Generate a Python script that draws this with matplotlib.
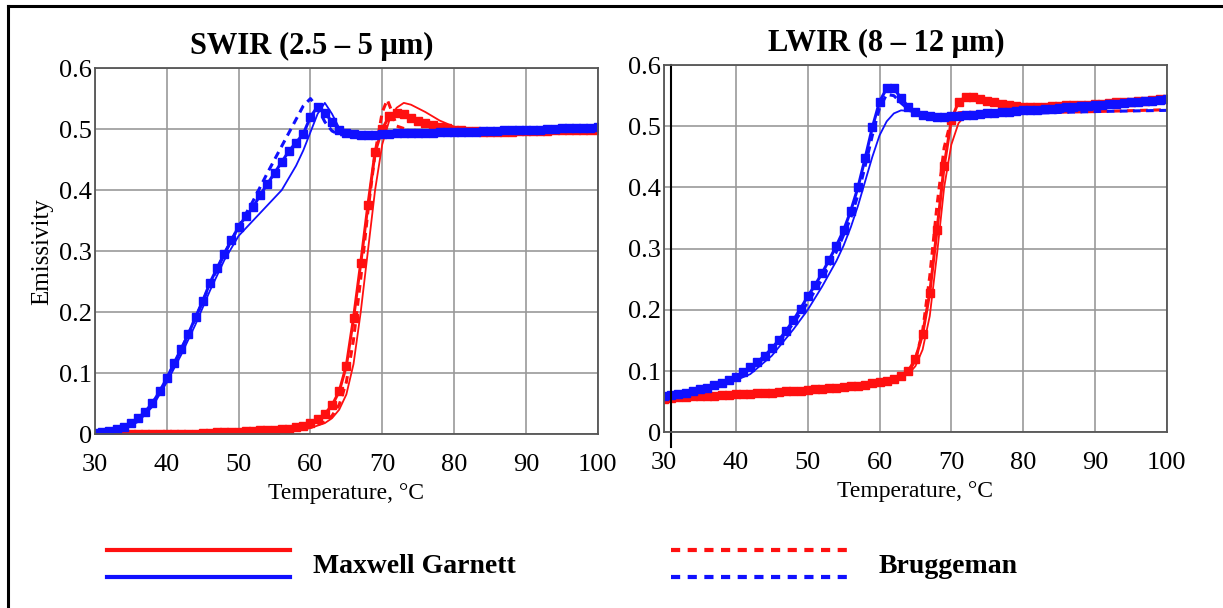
import numpy as np
import matplotlib
matplotlib.use('Agg')
import matplotlib.pyplot as plt
from matplotlib.lines import Line2D

plt.rcParams['font.family'] = ['Liberation Serif', 'DejaVu Serif']

RED = '#ff1010'
BLUE = '#1010ff'

# measured points, 30..100 C in 1 C steps
t_exp = list(range(30, 101))

swir_blue_exp = [0.002, 0.003, 0.005, 0.008, 0.012, 0.018, 0.026, 0.037, 0.051, 0.070,
                 0.092, 0.116, 0.140, 0.164, 0.192, 0.218, 0.248, 0.272, 0.296, 0.318,
                 0.340, 0.357, 0.372, 0.392, 0.410, 0.428, 0.446, 0.464, 0.478, 0.492,
                 0.520, 0.537, 0.527, 0.512, 0.499, 0.494, 0.492, 0.491, 0.491, 0.491,
                 0.492, 0.492, 0.493, 0.493, 0.493, 0.494, 0.494, 0.494, 0.495, 0.495,
                 0.495, 0.496, 0.496, 0.496, 0.497, 0.497, 0.497, 0.498, 0.498, 0.498,
                 0.499, 0.499, 0.499, 0.500, 0.500, 0.501, 0.501, 0.501, 0.502, 0.502,
                 0.503]
swir_red_exp = [0.001, 0.001, 0.001, 0.001, 0.001, 0.001, 0.001, 0.001, 0.001, 0.001,
                0.001, 0.001, 0.001, 0.001, 0.001, 0.002, 0.002, 0.003, 0.003, 0.004,
                0.004, 0.005, 0.005, 0.006, 0.006, 0.007, 0.008, 0.009, 0.011, 0.014,
                0.018, 0.024, 0.033, 0.047, 0.070, 0.112, 0.190, 0.280, 0.375, 0.462,
                0.500, 0.522, 0.526, 0.524, 0.519, 0.514, 0.510, 0.506, 0.503, 0.501,
                0.499, 0.498, 0.497, 0.497, 0.496, 0.496, 0.496, 0.496, 0.496, 0.497,
                0.497, 0.497, 0.497, 0.497, 0.498, 0.498, 0.498, 0.498, 0.498, 0.499,
                0.499]
lwir_blue_exp = [0.059, 0.061, 0.063, 0.065, 0.068, 0.070, 0.073, 0.077, 0.081, 0.086,
                 0.091, 0.098, 0.106, 0.115, 0.125, 0.137, 0.151, 0.166, 0.183, 0.202,
                 0.222, 0.240, 0.260, 0.282, 0.305, 0.330, 0.362, 0.400, 0.448, 0.498,
                 0.540, 0.562, 0.562, 0.546, 0.532, 0.523, 0.518, 0.516, 0.515, 0.515,
                 0.516, 0.517, 0.518, 0.519, 0.520, 0.521, 0.522, 0.523, 0.524, 0.525,
                 0.526, 0.527, 0.527, 0.528, 0.529, 0.530, 0.531, 0.532, 0.533, 0.533,
                 0.534, 0.535, 0.536, 0.537, 0.538, 0.539, 0.540, 0.541, 0.542, 0.543,
                 0.544]
lwir_red_exp = [0.055, 0.056, 0.057, 0.058, 0.059, 0.059, 0.060, 0.060, 0.061, 0.061,
                0.062, 0.063, 0.063, 0.064, 0.064, 0.065, 0.066, 0.067, 0.067, 0.068,
                0.069, 0.070, 0.071, 0.072, 0.073, 0.074, 0.075, 0.076, 0.078, 0.080,
                0.082, 0.084, 0.087, 0.092, 0.100, 0.120, 0.160, 0.228, 0.330, 0.435,
                0.510, 0.540, 0.548, 0.547, 0.545, 0.542, 0.539, 0.536, 0.534, 0.533,
                0.532, 0.532, 0.532, 0.532, 0.533, 0.533, 0.534, 0.534, 0.535, 0.535,
                0.536, 0.537, 0.538, 0.539, 0.540, 0.540, 0.541, 0.542, 0.543, 0.544,
                0.545]

# Maxwell Garnett (solid) and Bruggeman (dashed) model curves
swir_blue_mg_t = [30, 32, 34, 36, 38, 40, 42, 44, 46, 48, 50, 52, 54, 56, 58, 59, 60, 61, 62, 63, 64, 65, 66, 68, 70, 75, 80, 90, 100]
swir_blue_mg = [0.000, 0.002, 0.008, 0.020, 0.045, 0.085, 0.130, 0.180, 0.235, 0.285, 0.325, 0.350, 0.375, 0.400, 0.440, 0.465, 0.495, 0.525, 0.543, 0.525, 0.502, 0.492, 0.489, 0.489, 0.490, 0.492, 0.494, 0.497, 0.500]
swir_blue_bg_t = [30, 32, 34, 36, 38, 40, 42, 44, 46, 48, 50, 52, 54, 56, 58, 59, 60, 61, 62, 63, 64, 66, 70, 80, 90, 100]
swir_blue_bg = [0.000, 0.003, 0.010, 0.024, 0.050, 0.090, 0.138, 0.190, 0.245, 0.295, 0.340, 0.382, 0.428, 0.472, 0.516, 0.538, 0.550, 0.535, 0.512, 0.497, 0.491, 0.489, 0.490, 0.493, 0.496, 0.498]
swir_red_mg_t = [30, 40, 50, 55, 58, 60, 62, 63, 64, 65, 66, 67, 68, 69, 70, 71, 72, 73, 74, 76, 78, 80, 82, 85, 90, 100]
swir_red_mg = [0.000, 0.000, 0.002, 0.004, 0.007, 0.010, 0.018, 0.026, 0.040, 0.065, 0.115, 0.200, 0.300, 0.400, 0.475, 0.515, 0.535, 0.543, 0.540, 0.528, 0.514, 0.504, 0.499, 0.497, 0.497, 0.498]
swir_red_bg_t = [30, 40, 50, 55, 58, 60, 62, 63, 64, 65, 66, 67, 68, 69, 70, 70.7, 71.3, 72, 74, 78, 85, 90, 100]
swir_red_bg = [0.000, 0.000, 0.002, 0.004, 0.007, 0.011, 0.020, 0.030, 0.048, 0.085, 0.155, 0.255, 0.365, 0.460, 0.528, 0.548, 0.530, 0.505, 0.497, 0.495, 0.494, 0.495, 0.496]

lwir_blue_mg_t = [30, 33, 36, 39, 42, 45, 48, 50, 52, 54, 55, 56, 57, 58, 59, 60, 61, 62, 63, 64, 66, 68, 70, 75, 80, 90, 100]
lwir_blue_mg = [0.055, 0.062, 0.070, 0.080, 0.095, 0.125, 0.168, 0.200, 0.238, 0.280, 0.305, 0.335, 0.370, 0.410, 0.450, 0.485, 0.508, 0.521, 0.526, 0.525, 0.520, 0.517, 0.517, 0.521, 0.526, 0.533, 0.540]
lwir_blue_bg_t = [30, 33, 36, 39, 42, 45, 48, 50, 52, 54, 56, 57, 58, 59, 60, 61, 62, 63, 64, 66, 68, 70, 75, 80, 90, 100]
lwir_blue_bg = [0.057, 0.063, 0.072, 0.084, 0.102, 0.132, 0.178, 0.212, 0.250, 0.295, 0.350, 0.388, 0.435, 0.485, 0.530, 0.552, 0.550, 0.538, 0.528, 0.520, 0.517, 0.517, 0.519, 0.521, 0.524, 0.526]
lwir_red_mg_t = [30, 40, 50, 55, 60, 62, 64, 65, 66, 67, 68, 69, 70, 71, 72, 73, 75, 80, 90, 100]
lwir_red_mg = [0.054, 0.061, 0.068, 0.073, 0.080, 0.085, 0.095, 0.108, 0.135, 0.190, 0.290, 0.400, 0.470, 0.505, 0.518, 0.522, 0.525, 0.528, 0.535, 0.544]
lwir_red_bg_t = [30, 40, 50, 55, 60, 62, 64, 65, 66, 67, 68, 69, 70, 71, 72, 75, 80, 90, 100]
lwir_red_bg = [0.055, 0.062, 0.069, 0.074, 0.081, 0.086, 0.098, 0.118, 0.165, 0.255, 0.370, 0.465, 0.512, 0.522, 0.523, 0.522, 0.522, 0.524, 0.527]

panels = [
    ('SWIR (2.5 – 5 μm)', 0.431, swir_blue_exp, swir_red_exp,
     (swir_blue_mg_t, swir_blue_mg), (swir_blue_bg_t, swir_blue_bg),
     (swir_red_mg_t, swir_red_mg), (swir_red_bg_t, swir_red_bg)),
    ('LWIR (8 – 12 μm)', 0.443, lwir_blue_exp, lwir_red_exp,
     (lwir_blue_mg_t, lwir_blue_mg), (lwir_blue_bg_t, lwir_blue_bg),
     (lwir_red_mg_t, lwir_red_mg), (lwir_red_bg_t, lwir_red_bg)),
]

fig = plt.figure(figsize=(12.23, 6.08), dpi=100)
ax1 = fig.add_axes([0.0777, 0.286, 0.411, 0.602])
ax2 = fig.add_axes([0.543, 0.289, 0.411, 0.604])

for ax, (title, tx, bexp, rexp, bmg, bbg, rmg, rbg) in zip([ax1, ax2], panels):
    ax.plot(t_exp, rexp, color=RED, marker='s', ms=5.5, lw=2.2)
    ax.plot(*rmg, color=RED, lw=1.3)
    ax.plot(*rbg, color=RED, lw=2.2, ls=(0, (2.5, 1.8)))
    ax.plot(t_exp, bexp, color=BLUE, marker='s', ms=5.5, lw=2.2)
    ax.plot(*bmg, color=BLUE, lw=1.3)
    ax.plot(*bbg, color=BLUE, lw=2.2, ls=(0, (2.5, 1.8)))

    ax.set_xlim(30, 100)
    ax.set_ylim(0, 0.6)
    ax.set_xticks(range(30, 101, 10))
    ax.set_yticks([0, 0.1, 0.2, 0.3, 0.4, 0.5, 0.6])
    ax.set_yticklabels(['0', '0.1', '0.2', '0.3', '0.4', '0.5', '0.6'])
    ax.grid(True, color='#999999', lw=1.2)
    ax.set_axisbelow(True)
    ax.tick_params(length=0, labelsize=19)
    ax.tick_params(axis='x', pad=14)
    ax.tick_params(axis='y', pad=2)
    for s in ax.spines.values():
        s.set_color('#555555')
        s.set_linewidth(1.3)
    ax.set_title(title, fontsize=22, fontweight='bold', pad=10, x=tx)
    ax.set_xlabel('Temperature, °C', fontsize=17, labelpad=5)

ax1.set_ylabel('Emissivity', fontsize=18, labelpad=4)
ax2.axvline(31, ymin=-0.04, ymax=1, color='black', lw=1.5, clip_on=False)

# legend drawn as two stacked lines per model
def leg_pair(x0, x1, ls, label, xt):
    fig.add_artist(Line2D([x0, x1], [0.0954, 0.0954], color=RED, lw=3, ls=ls))
    fig.add_artist(Line2D([x0, x1], [0.051, 0.051], color=BLUE, lw=3, ls=ls))
    fig.text(xt, 0.069, label, fontsize=20, fontweight='bold', va='center', ha='left')

leg_pair(0.0875, 0.237, '-', 'Maxwell Garnett', 0.256)
leg_pair(0.549, 0.695, (0, (2.2, 1.8)), 'Bruggeman', 0.718)

# frame lines on top and left
fig.add_artist(Line2D([0.0065, 1.0], [0.990, 0.990], color='black', lw=2.2))
fig.add_artist(Line2D([0.0065, 0.0065], [0.0, 0.990], color='black', lw=2.2))

fig.savefig('out.png', dpi=100)
